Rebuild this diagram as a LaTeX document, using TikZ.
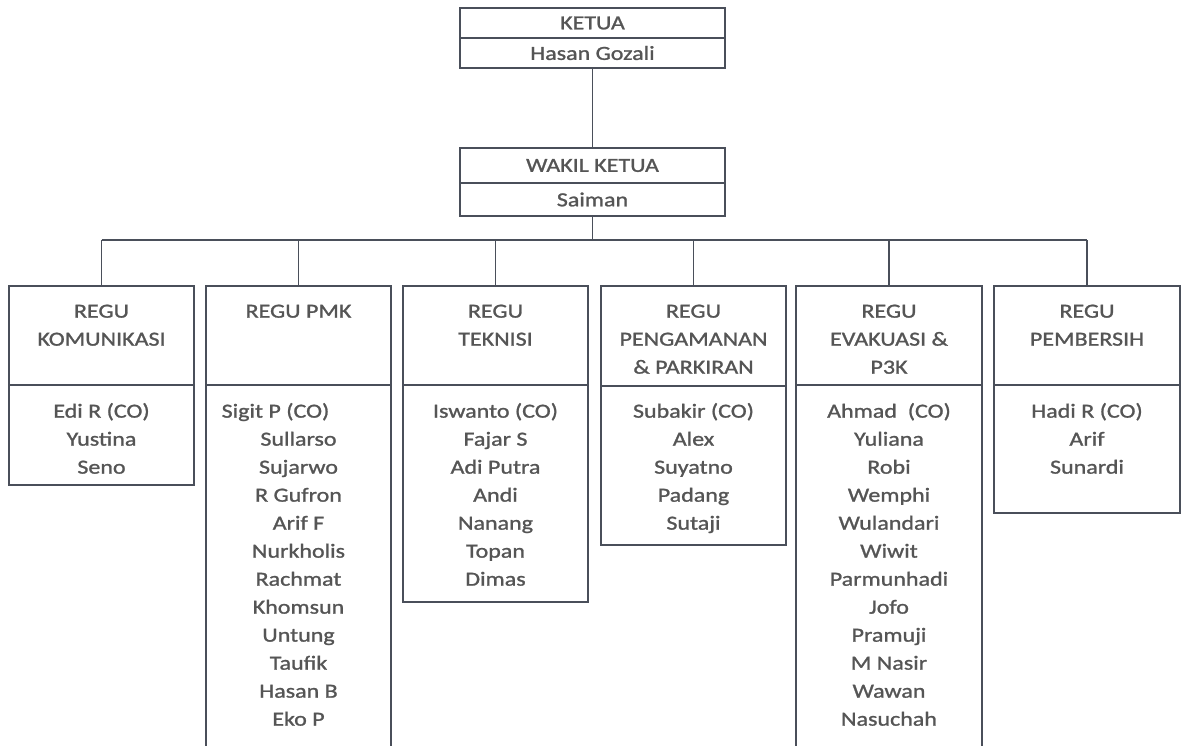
\documentclass[tikz,border=0pt]{standalone}
\usepackage{fontspec}
\setmainfont{Carlito}[FakeStretch=1.2,FakeBold=1.2]
\usetikzlibrary{calc}
\definecolor{txt}{HTML}{555555}
\definecolor{ln}{HTML}{4A4F5A}
\newcommand{\fs}{\rule{0pt}{18pt}}
\tikzset{
  cell/.style={draw=ln, line width=1.1pt, inner sep=0pt},
  lbl/.style={text=txt, inner sep=0pt, align=center, font=\fontsize{20}{28}\selectfont},
  conn/.style={draw=ln, line width=1.1pt}
}
\begin{document}
\begin{tikzpicture}[x=1pt,y=-1pt]
\useasboundingbox (0,0) rectangle (1184,745);
\clip (0,0) rectangle (1184,745);
\fill[white] (0,0) rectangle (1184,745);
% top boxes
\node[cell, minimum width=265pt, minimum height=30pt] (k1) at (592.5,23) {};
\node[cell, minimum width=265pt, minimum height=30pt] (k2) at (592.5,53) {};
\node[lbl] at (k1) {KETUA};
\node[lbl] at (k2) {Hasan Gozali};
\node[cell, minimum width=265pt, minimum height=35pt] (w1) at (592.5,165.5) {};
\node[cell, minimum width=265pt, minimum height=33pt] (w2) at (592.5,199.5) {};
\node[lbl] at (w1) {WAKIL KETUA};
\node[lbl] at (w2) {Saiman};
\coordinate (bar) at (592.5,240);
% team headers
\node[cell, minimum width=185pt, minimum height=99pt] (h1) at (101.5,335.5) {};
\node[cell, minimum width=185pt, minimum height=99pt] (h2) at (298.5,335.5) {};
\node[cell, minimum width=185pt, minimum height=99pt] (h3) at (495.5,335.5) {};
\node[cell, minimum width=185pt, minimum height=100pt] (h4) at (693.5,336) {};
\node[cell, minimum width=186pt, minimum height=99pt] (h5) at (889,335.5) {};
\node[cell, minimum width=186pt, minimum height=99pt] (h6) at (1087,335.5) {};
% team bodies
\node[cell, minimum width=185pt, minimum height=100pt] (b1) at (101.5,435) {};
\node[cell, minimum width=185pt, minimum height=380pt] (b2) at (298.5,575) {};
\node[cell, minimum width=185pt, minimum height=217pt] (b3) at (495.5,493.5) {};
\node[cell, minimum width=185pt, minimum height=159pt] (b4) at (693.5,465.5) {};
\node[cell, minimum width=186pt, minimum height=380pt] (b5) at (889,575) {};
\node[cell, minimum width=186pt, minimum height=128pt] (b6) at (1087,449) {};
% connectors
\draw[conn] (k2.south) -- (w1.north);
\draw[conn] (w2.south) -- (bar);
\draw[conn] (h1.north |- bar) -- (h6.north |- bar);
\foreach \h in {h1,h2,h3,h4,h5,h6} \draw[conn] (\h.north) -- (\h.north |- bar);
% header texts
\node[lbl, anchor=north] at ($(h1.north)+(0,14)$) {\fs REGU\\KOMUNIKASI};
\node[lbl, anchor=north] at ($(h2.north)+(0,14)$) {\fs REGU PMK};
\node[lbl, anchor=north] at ($(h3.north)+(0,14)$) {\fs REGU\\TEKNISI};
\node[lbl, anchor=north] at ($(h4.north)+(0,14)$) {\fs REGU\\PENGAMANAN\\\& PARKIRAN};
\node[lbl, anchor=north] at ($(h5.north)+(0,14)$) {\fs REGU\\EVAKUASI \&\\P3K};
\node[lbl, anchor=north] at ($(h6.north)+(0,14)$) {\fs REGU\\PEMBERSIH};
% body texts
\node[lbl, anchor=north] at ($(b1.north)+(0,15)$) {\fs Edi R (CO)\\Yustina\\Seno};
\node[lbl, anchor=north] at ($(b2.north)+(0,15)$) {\fs\hspace*{-46pt}Sigit P (CO)\\Sullarso\\Sujarwo\\R Gufron\\Arif F\\Nurkholis\\Rachmat\\Khomsun\\Untung\\Taufik\\Hasan B\\Eko P};
\node[lbl, anchor=north] at ($(b3.north)+(0,15)$) {\fs Iswanto (CO)\\Fajar S\\Adi Putra\\Andi\\Nanang\\Topan\\Dimas};
\node[lbl, anchor=north] at ($(b4.north)+(0,14)$) {\fs Subakir (CO)\\Alex\\Suyatno\\Padang\\Sutaji};
\node[lbl, anchor=north] at ($(b5.north)+(0,15)$) {\fs Ahmad\ \ (CO)\\Yuliana\\Robi\\Wemphi\\Wulandari\\Wiwit\\Parmunhadi\\Jofo\\Pramuji\\M Nasir\\Wawan\\Nasuchah};
\node[lbl, anchor=north] at ($(b6.north)+(0,15)$) {\fs Hadi R (CO)\\Arif\\Sunardi};
\end{tikzpicture}
\end{document}
